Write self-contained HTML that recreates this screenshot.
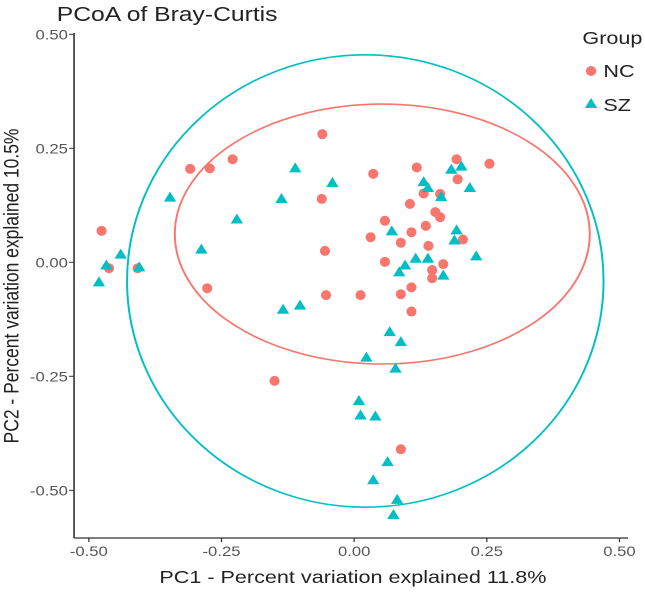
<!DOCTYPE html>
<html><head><meta charset="utf-8"><style>
body{margin:0;background:#fff;font-family:"Liberation Sans",sans-serif}
svg text{font-family:"Liberation Sans",sans-serif}
</style></head><body>
<svg id="c" width="645" height="588">
<g transform="scale(1.234,1)">
<text x="46" y="21" font-size="20" fill="#222">PCoA of Bray-Curtis</text>
<g id="axes"></g><g id="ell"></g><g id="pts"></g>
<text x="286" y="583" font-size="17.5" fill="#222" text-anchor="middle">PC1 - Percent variation explained 11.8%</text>
<text transform="translate(15,286) rotate(-90)" font-size="17.5" fill="#222" text-anchor="middle">PC2 - Percent variation explained 10.5%</text>
<g>
<text x="472" y="44" font-size="17.5" fill="#222">Group</text>
<ellipse cx="479" cy="71" rx="4.2" ry="5" fill="#F8766D"/>
<text x="489" y="77" font-size="17.5" fill="#222">NC</text>
<path d="M479,98 L484,108 L474,108 Z" fill="#00BFC4"/>
<text x="489" y="111" font-size="17.5" fill="#222">SZ</text>
</g>
</g>
</svg>
<script>
const xTicks=[-0.5,-0.25,0,0.25,0.5];
const yTicks=[0.5,0.25,0,-0.25,-0.5];
const xTickLabels=["-0.50","-0.25","0.00","0.25","0.50"];
const yTickLabels=["0.50","0.25","0.00","-0.25","-0.50"];
const ncX=[-0.476,-0.462,-0.408,-0.309,-0.272,-0.229,-0.277,-0.060,-0.061,-0.055,-0.053,0.012,0.036,0.031,0.058,0.058,0.088,0.088,0.108,0.108,0.118,0.105,0.131,0.135,0.140,0.147,0.147,0.153,0.162,0.162,0.168,0.193,0.195,0.205,0.255,0.108,-0.150,0.088];
const ncY=[0.069,-0.013,-0.013,0.205,0.206,0.226,-0.057,0.281,0.139,0.025,-0.072,-0.072,0.194,0.055,0.091,0.001,0.043,-0.070,0.066,-0.055,0.208,0.128,0.151,0.080,0.036,-0.017,-0.035,0.110,0.099,0.150,-0.004,0.226,0.182,0.050,0.216,-0.108,-0.260,-0.410];
const szX=[-0.481,-0.467,-0.440,-0.405,-0.347,-0.288,-0.221,-0.137,-0.111,-0.041,0.071,0.085,0.096,0.116,0.139,0.131,0.139,0.164,0.168,0.183,0.202,0.193,0.189,0.218,0.230,-0.134,-0.102,0.067,0.088,0.023,0.078,0.009,0.012,0.040,0.063,0.036,0.081,0.074];
const szY=[-0.043,-0.006,0.018,-0.010,0.143,0.029,0.095,0.140,0.207,0.175,0.069,-0.021,-0.006,0.009,0.009,0.177,0.164,0.144,-0.028,0.204,0.211,0.071,0.049,0.164,0.014,-0.103,-0.094,-0.152,-0.174,-0.208,-0.232,-0.303,-0.335,-0.337,-0.437,-0.477,-0.520,-0.553];
const ellNC=[0.053,0.062,0.391,0.285];
const ellSZ=[0.021,-0.041,0.449,0.496];
const X=v=>287+430*v, Y=v=>262.3-456*v;
const NS="http://www.w3.org/2000/svg";
function mk(t,a,p){const e=document.createElementNS(NS,t);for(const k in a)e.setAttribute(k,a[k]);p.appendChild(e);return e;}
const ax=document.getElementById('axes');
let e=mk('line',{x1:60,y1:33,x2:60,y2:538,stroke:'#333','stroke-width':1.3},ax);


e=mk('line',{x1:60,y1:538,x2:509,y2:538,stroke:'#333','stroke-width':1.3},ax);


xTicks.forEach((v,i)=>{
 let t=mk('line',{x1:X(v),x2:X(v),y1:538,y2:542,stroke:'#333'},ax);
 
 
 let l=mk('text',{x:X(v),y:556,'font-size':13.5,fill:'#555','text-anchor':'middle'},ax);l.textContent=xTickLabels[i];
 
 
});
yTicks.forEach((v,i)=>{
 let t=mk('line',{x1:56,x2:60,y1:Y(v),y2:Y(v),stroke:'#333'},ax);
 
 
 let l=mk('text',{x:55,y:Y(v)+5,'font-size':13.5,fill:'#555','text-anchor':'end'},ax);l.textContent=yTickLabels[i];
 
 
});
const eg=document.getElementById('ell');
[[ellNC,'#F8766D','ellipse-nc'],[ellSZ,'#00BFC4','ellipse-sz']].forEach(([d,c,n])=>{
 const el=mk('ellipse',{cx:X(d[0]),cy:Y(d[1]),rx:430*d[2],ry:456*d[3],fill:'none',stroke:c,'stroke-width':1.6},eg);
 
 
});
const pg=document.getElementById('pts');
ncX.forEach((x,i)=>{
 const c=mk('ellipse',{cx:X(x),cy:Y(ncY[i]),rx:4.1,ry:5,fill:'#F8766D'},pg);
 
 
});
szX.forEach((x,i)=>{
 const cx=X(x),cy=Y(szY[i]);
 const p=mk('path',{d:`M${cx},${cy-5.5} L${cx+5},${cy+4.5} L${cx-5},${cy+4.5} Z`,fill:'#00BFC4'},pg);
 
 
});
</script>
</body></html>
